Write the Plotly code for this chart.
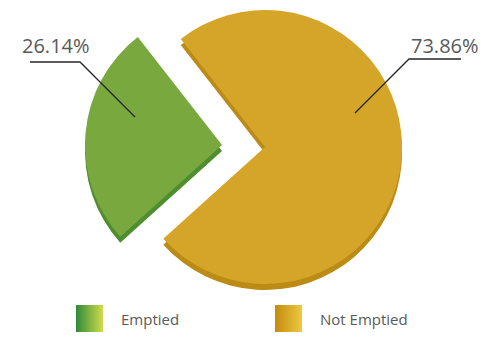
import plotly.graph_objects as go

# ---- data ----
categories = ["Emptied", "Not Emptied"]
values = [26.14, 73.86]
label_texts = [f"{v:.2f}%" for v in values]

# ---- styling ----
face_colors = ["#78a83e", "#d4a528"]
side_colors = ["#4f8e2f", "#bb8b15"]
legend_grads = [
    [[0, "#2f8a38"], [1, "#cfdc4c"]],
    [[0, "#c48a10"], [1, "#ecca3e"]],
]

W, H = 493, 338
R = 137                      # pie radius in px
centers = [(222, 145), (265, 147)]   # Emptied (pulled out), Not Emptied
depth = 6                    # 3D thickness in px
mid_clock = 275              # Emptied slice mid-direction, deg clockwise from 12 o'clock
total = sum(values)
rotation = mid_clock - values[0] / total * 360 / 2


def dom(cx, cy):
    return dict(x=[(cx - R) / W, (cx + R) / W],
                y=[(H - cy - R) / H, (H - cy + R) / H])


fig = go.Figure()

# pie: side (depth) layers first, then top faces
for dy, colors in [(depth, side_colors), (0, face_colors)]:
    for i, cat in enumerate(categories):
        cx, cy = centers[i]
        cols = ["rgba(0,0,0,0)"] * len(categories)
        cols[i] = colors[i]
        fig.add_trace(go.Pie(
            labels=categories, values=values, sort=False,
            direction="clockwise", rotation=rotation,
            marker=dict(colors=cols, line=dict(width=0)),
            textinfo="none", hoverinfo="skip", showlegend=False,
            domain=dom(cx, cy + dy),
        ))

# ---- legend (drawn manually, gradient squares) ----
legend_x = [76, 275]
legend_y = 305
sq = 27
for i, cat in enumerate(categories):
    x0 = legend_x[i]
    fig.add_trace(go.Scatter(
        x=[x0, x0 + sq, x0 + sq, x0, x0],
        y=[legend_y, legend_y, legend_y + sq, legend_y + sq, legend_y],
        mode="lines", fill="toself", line=dict(width=0),
        fillgradient=dict(type="horizontal", colorscale=legend_grads[i]),
        hoverinfo="skip", showlegend=False,
    ))
    fig.add_annotation(x=x0 + sq + 16, y=legend_y + sq / 2, xref="x", yref="y",
                       text=cat, showarrow=False, xanchor="left", yanchor="middle",
                       font=dict(family="Open Sans", size=15, color="#595959"))

# ---- data labels with leader lines ----
label_pos = [(56, 45), (445, 45)]
leader_paths = ["M 30,62 L 80,62 L 135,117", "M 461,59 L 409,59 L 355,113"]
for i in range(len(categories)):
    fig.add_annotation(x=label_pos[i][0], y=label_pos[i][1], xref="x", yref="y",
                       text=label_texts[i], showarrow=False,
                       xanchor="center", yanchor="middle",
                       font=dict(family="Open Sans", size=20, color="#595959"))
    fig.add_shape(type="path", path=leader_paths[i], xref="x", yref="y",
                  line=dict(color="#262626", width=1.3), layer="above")

fig.update_xaxes(range=[0, W], visible=False, fixedrange=True)
fig.update_yaxes(range=[H, 0], visible=False, fixedrange=True)
fig.update_layout(
    width=W, height=H,
    margin=dict(l=0, r=0, t=0, b=0),
    paper_bgcolor="white", plot_bgcolor="white",
    showlegend=False,
)

fig.write_html("out.html", config={"displayModeBar": False},
               post_script="document.body.style.margin='0';")
